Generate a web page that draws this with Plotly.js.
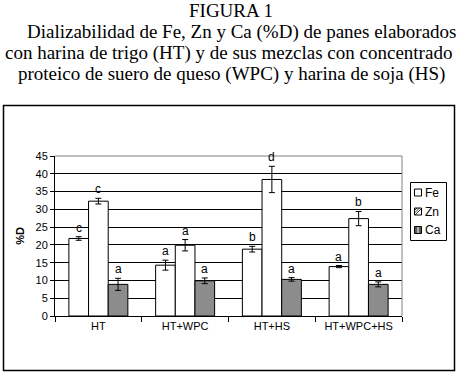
<!DOCTYPE html>
<html>
<head>
<meta charset="utf-8">
<script src="https://cdn.plot.ly/plotly-3.0.1.min.js"></script>
<style>
  html, body { margin: 0; padding: 0; background: #fff; }
  #chart { width: 462px; height: 375px; }
</style>
</head>
<body>
<div id="chart"></div>
<script>
// ---- data ----
const categories = ["HT", "HT+WPC", "HT+HS", "HT+WPC+HS"];
const seriesNames = ["Fe", "Zn", "Ca"];
const feValues = [21.8, 14.3, 18.8, 13.9];
const feErrors = [0.5, 1.4, 0.8, 0.3];
const znValues = [32.3, 19.9, 38.4, 27.4];
const znErrors = [0.8, 1.6, 3.7, 2.0];
const caValues = [8.9, 9.9, 10.3, 8.9];
const caErrors = [1.7, 0.8, 0.5, 0.7];
const feLetters = ["c", "a", "b", "a"];
const znLetters = ["c", "a", "d", "b"];
const caLetters = ["a", "a", "a", "a"];
const titleLines = [
  "FIGURA 1",
  "Dializabilidad de Fe, Zn y Ca (%D) de panes elaborados",
  "con harina de trigo (HT) y de sus mezclas con concentrado",
  "proteico de suero de queso (WPC) y harina de soja (HS)"
];

// ---- layout constants ----
const W = 462, H = 375;
const M = { l: 55, r: 60, t: 156, b: 59 };
const plotW = W - M.l - M.r, plotH = H - M.t - M.b;
const bargap = 0.32;
const barPx = plotW / categories.length * (1 - bargap) / 3;
const sans = "Liberation Sans, Arial, sans-serif";
const serif = "Liberation Serif, Times New Roman, serif";
const px2x = p => (p - M.l) / plotW;
const px2y = p => (H - M.b - p) / plotH;
const fillColors = ["#ffffff", "#ffffff", "#8c8c8c"];

function errBar(arr) {
  return { type: "data", array: arr, visible: true, color: "#000", thickness: 1, width: 3 };
}
const line = { color: "#000", width: 1 };

const valueSets = [feValues, znValues, caValues];
const errorSets = [feErrors, znErrors, caErrors];
const letterSets = [feLetters, znLetters, caLetters];

const traces = seriesNames.map((n, i) => ({
  type: "bar", name: n, x: categories, y: valueSets[i], offsetgroup: String(i),
  marker: { color: fillColors[i], line: line }, error_y: errBar(errorSets[i]),
  hoverinfo: "skip"
}));

const annotations = [];
seriesNames.forEach((n, gi) => {
  categories.forEach((c, i) => {
    annotations.push({
      x: c, y: valueSets[gi][i] + errorSets[gi][i], xref: "x", yref: "y",
      text: letterSets[gi][i], showarrow: false, xshift: (gi - 1) * barPx,
      yanchor: "bottom", yshift: 0, font: { family: sans, size: 12, color: "#000" }
    });
  });
});
const titleCenters = [231, 241, 228, 231];
const titleYs = [10.5, 32, 53, 74];
titleLines.forEach((t, i) => {
  annotations.push({
    text: t, xref: "paper", yref: "paper", x: px2x(titleCenters[i]), y: px2y(titleYs[i]),
    xanchor: "center", yanchor: "middle", showarrow: false,
    font: { family: serif, size: 19, color: "#000" }
  });
});

// ---- hand-drawn legend (box, swatches, labels) ----
const shapes = [
  { type: "rect", xref: "paper", yref: "paper", x0: px2x(3.5), x1: px2x(454.5), y0: px2y(370.5), y1: px2y(105.5),
    line: { color: "#000", width: 1.5 }, layer: "below" },
  { type: "line", xref: "paper", yref: "paper", x0: 0, x1: 1, y0: 1, y1: 1,
    line: { color: "#808080", width: 1 }, layer: "above" },
  { type: "line", xref: "paper", yref: "paper", x0: 1, x1: 1, y0: 0, y1: 1,
    line: { color: "#808080", width: 1 }, layer: "above" },
  { type: "rect", xref: "paper", yref: "paper", x0: px2x(410.5), x1: px2x(446.5), y0: px2y(240.5), y1: px2y(182.5),
    line: { color: "#000", width: 1 }, fillcolor: "#fff", layer: "above" }
];
const legendSwatchFill = ["#ffffff", "#ffffff", "#5a5a5a"];
const rowY = [192.5, 211.5, 230];
const sw = 7;
seriesNames.forEach((n, i) => {
  const x0 = 414.5, y0 = rowY[i] - sw / 2;
  shapes.push({ type: "rect", xref: "paper", yref: "paper", x0: px2x(x0), x1: px2x(x0 + sw),
    y0: px2y(y0 + sw), y1: px2y(y0), line: { color: "#000", width: 1 }, fillcolor: legendSwatchFill[i], layer: "above" });
  if (n === "Zn") {
    [2.5, 5, 7.5].forEach(d => {
      shapes.push({ type: "line", xref: "paper", yref: "paper",
        x0: px2x(x0 + Math.max(0, d - sw)), y0: px2y(y0 + Math.min(sw, d)),
        x1: px2x(x0 + Math.min(sw, d)), y1: px2y(y0 + Math.max(0, d - sw)),
        line: { color: "#000", width: 0.8 }, layer: "above" });
    });
  }
  if (n === "Ca") {
    shapes.push({ type: "rect", xref: "paper", yref: "paper", x0: px2x(x0 + 2.5), x1: px2x(x0 + 4.5),
      y0: px2y(y0 + sw - 0.5), y1: px2y(y0 + 0.5), line: { width: 0 }, fillcolor: "#b0b0b0", layer: "above" });
  }
  annotations.push({ text: n, xref: "paper", yref: "paper", x: px2x(423), y: px2y(rowY[i]),
    xanchor: "left", yanchor: "middle", showarrow: false, font: { family: sans, size: 12, color: "#000" } });
});

const layout = {
  width: W, height: H,
  margin: M,
  paper_bgcolor: "#fff", plot_bgcolor: "#fff",
  barmode: "group", bargap: bargap, bargroupgap: 0,
  showlegend: false,
  xaxis: {
    type: "category", tickson: "boundaries", ticks: "outside", ticklen: 5, tickcolor: "#000",
    showline: true, linecolor: "#000", linewidth: 1, showgrid: false,
    tickfont: { family: sans, size: 11, color: "#000" }
  },
  yaxis: {
    range: [0, 45], dtick: 5, ticks: "outside", ticklen: 4, tickcolor: "#000",
    showline: true, linecolor: "#000", linewidth: 1,
    showgrid: true, gridcolor: "#000", gridwidth: 1, zeroline: false,
    tickfont: { family: sans, size: 11, color: "#000" },
    title: { text: "<b>%D</b>", font: { family: sans, size: 11, color: "#000" }, standoff: 8 }
  },
  shapes: shapes,
  annotations: annotations
};

Plotly.newPlot("chart", traces, layout, { displayModeBar: false, staticPlot: true });
</script>
</body>
</html>
